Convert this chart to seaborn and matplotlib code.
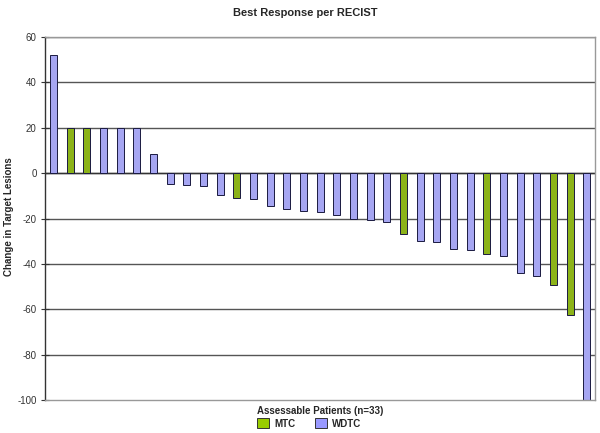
import matplotlib
matplotlib.use("Agg")
import matplotlib.pyplot as plt
import seaborn as sns
import pandas as pd
from matplotlib.patches import Patch

patients = [str(i) for i in range(1, 34)]
change = [52, 20, 20, 20, 20, 20, 8.5, -5, -5.3, -5.5, -9.8, -11, -11.4, -14.4, -16,
          -16.5, -17, -18.3, -20.4, -20.7, -21.5, -27, -29.7, -30.5, -33.5, -34,
          -35.5, -36.7, -43.8, -45.3, -49.1, -62.6, -100]
tumor = ["WDTC", "MTC", "MTC", "WDTC", "WDTC", "WDTC", "WDTC", "WDTC", "WDTC", "WDTC",
         "WDTC", "MTC", "WDTC", "WDTC", "WDTC", "WDTC", "WDTC", "WDTC", "WDTC", "WDTC",
         "WDTC", "MTC", "WDTC", "WDTC", "WDTC", "WDTC", "MTC", "WDTC", "WDTC", "WDTC",
         "MTC", "MTC", "WDTC"]
colors = {"MTC": "#99CC00", "WDTC": "#9999FF"}

df = pd.DataFrame({"patient": patients, "change": change, "type": tumor})

sns.set_style("white")
plt.rcParams["font.family"] = ["Liberation Sans", "DejaVu Sans"]
plt.rcParams["axes.unicode_minus"] = False

fig = plt.figure(figsize=(6, 4.33), dpi=100)
ax = fig.add_axes([0.075, 0.0762, 0.9167, 0.8383])

for y in range(-80, 61, 20):
    ax.axhline(y, color="#555555", lw=1.0, zorder=0)
ax.axhline(0, color="#333333", lw=1.0, zorder=0)

sns.barplot(data=df, x="patient", y="change", hue="type", palette=colors,
            dodge=False, width=0.42, edgecolor="#1a1a40", linewidth=0.7,
            order=patients, hue_order=["MTC", "WDTC"], legend=False, ax=ax, zorder=2)

ax.set_xlim(-0.5, 32.5)
ax.set_ylim(-100, 60)
ax.set_yticks(range(-100, 61, 20))
ax.set_xticks([])
ax.tick_params(axis="y", labelsize=7, labelcolor="#333333", direction="inout",
               length=6, width=0.8, color="#333333", left=True, pad=3)
for s in ["top", "right", "bottom"]:
    ax.spines[s].set_color("#999999")
    ax.spines[s].set_linewidth(1.0)
ax.spines["left"].set_color("#333333")
ax.spines["left"].set_linewidth(1.0)

ax.set_xlabel("")
ax.set_ylabel("")
fig.text(0.508, 0.971, "Best Response per RECIST", ha="center", va="center",
         fontsize=8, fontweight="bold")
fig.text(0.015, 0.5, "Change in Target Lesions", ha="center", va="center",
         rotation=90, fontsize=7, fontweight="bold")
fig.text(0.533, 0.050, "Assessable Patients (n=33)", ha="center", va="center",
         fontsize=7, fontweight="bold")

handles = [Patch(facecolor=colors["MTC"], edgecolor="#333333", lw=0.7, label="MTC"),
           Patch(facecolor=colors["WDTC"], edgecolor="#333333", lw=0.7, label="WDTC")]
fig.legend(handles=handles, loc="center", bbox_to_anchor=(0.515, 0.022), ncol=2,
           frameon=False, prop={"size": 7, "weight": "bold"}, handlelength=1.3,
           handleheight=1.2, columnspacing=2.0, handletextpad=0.5, borderpad=0.1)

fig.savefig("out.png", dpi=100)
